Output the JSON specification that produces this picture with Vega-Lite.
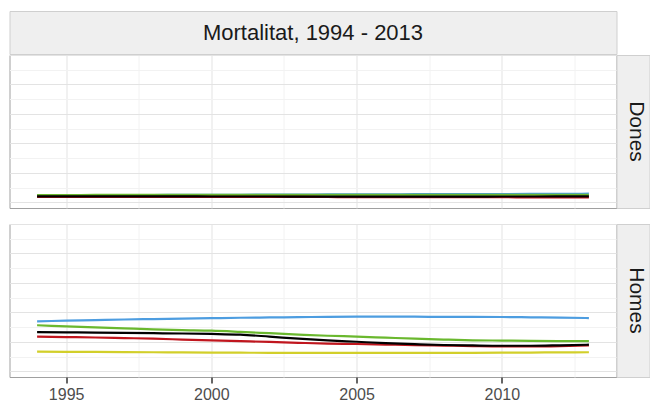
{
  "$schema": "https://vega.github.io/schema/vega-lite/v6.json",
  "padding": {"left": 8.5, "top": 10, "right": 0, "bottom": 0},
  "background": "white",
  "config": {"font": "Liberation Sans", "view": {"stroke": null}},
  "datasets": {
    "mort": [
      {"sexe":"Dones","serie":"Barcelona","any":1994,"valor":48},{"sexe":"Dones","serie":"Barcelona","any":1995,"valor":48.5},{"sexe":"Dones","serie":"Barcelona","any":1996,"valor":49},{"sexe":"Dones","serie":"Barcelona","any":1997,"valor":49.5},{"sexe":"Dones","serie":"Barcelona","any":1998,"valor":50},{"sexe":"Dones","serie":"Barcelona","any":1999,"valor":51},{"sexe":"Dones","serie":"Barcelona","any":2000,"valor":51.5},{"sexe":"Dones","serie":"Barcelona","any":2001,"valor":52},{"sexe":"Dones","serie":"Barcelona","any":2002,"valor":52.5},{"sexe":"Dones","serie":"Barcelona","any":2003,"valor":53},{"sexe":"Dones","serie":"Barcelona","any":2004,"valor":54},{"sexe":"Dones","serie":"Barcelona","any":2005,"valor":54.5},{"sexe":"Dones","serie":"Barcelona","any":2006,"valor":55},{"sexe":"Dones","serie":"Barcelona","any":2007,"valor":55.5},{"sexe":"Dones","serie":"Barcelona","any":2008,"valor":56},{"sexe":"Dones","serie":"Barcelona","any":2009,"valor":56.5},{"sexe":"Dones","serie":"Barcelona","any":2010,"valor":57},{"sexe":"Dones","serie":"Barcelona","any":2011,"valor":57.5},{"sexe":"Dones","serie":"Barcelona","any":2012,"valor":58},{"sexe":"Dones","serie":"Barcelona","any":2013,"valor":59},
      {"sexe":"Dones","serie":"Girona","any":1994,"valor":40},{"sexe":"Dones","serie":"Girona","any":1995,"valor":40},{"sexe":"Dones","serie":"Girona","any":1996,"valor":40},{"sexe":"Dones","serie":"Girona","any":1997,"valor":40},{"sexe":"Dones","serie":"Girona","any":1998,"valor":40},{"sexe":"Dones","serie":"Girona","any":1999,"valor":39.5},{"sexe":"Dones","serie":"Girona","any":2000,"valor":39.5},{"sexe":"Dones","serie":"Girona","any":2001,"valor":39.5},{"sexe":"Dones","serie":"Girona","any":2002,"valor":39},{"sexe":"Dones","serie":"Girona","any":2003,"valor":39},{"sexe":"Dones","serie":"Girona","any":2004,"valor":39},{"sexe":"Dones","serie":"Girona","any":2005,"valor":39},{"sexe":"Dones","serie":"Girona","any":2006,"valor":39},{"sexe":"Dones","serie":"Girona","any":2007,"valor":39},{"sexe":"Dones","serie":"Girona","any":2008,"valor":39},{"sexe":"Dones","serie":"Girona","any":2009,"valor":39},{"sexe":"Dones","serie":"Girona","any":2010,"valor":39},{"sexe":"Dones","serie":"Girona","any":2011,"valor":39.5},{"sexe":"Dones","serie":"Girona","any":2012,"valor":39.5},{"sexe":"Dones","serie":"Girona","any":2013,"valor":40},
      {"sexe":"Dones","serie":"Lleida","any":1994,"valor":50},{"sexe":"Dones","serie":"Lleida","any":1995,"valor":50},{"sexe":"Dones","serie":"Lleida","any":1996,"valor":50.5},{"sexe":"Dones","serie":"Lleida","any":1997,"valor":50.5},{"sexe":"Dones","serie":"Lleida","any":1998,"valor":51},{"sexe":"Dones","serie":"Lleida","any":1999,"valor":51},{"sexe":"Dones","serie":"Lleida","any":2000,"valor":51},{"sexe":"Dones","serie":"Lleida","any":2001,"valor":51.5},{"sexe":"Dones","serie":"Lleida","any":2002,"valor":51.5},{"sexe":"Dones","serie":"Lleida","any":2003,"valor":51.5},{"sexe":"Dones","serie":"Lleida","any":2004,"valor":52},{"sexe":"Dones","serie":"Lleida","any":2005,"valor":52},{"sexe":"Dones","serie":"Lleida","any":2006,"valor":52},{"sexe":"Dones","serie":"Lleida","any":2007,"valor":52},{"sexe":"Dones","serie":"Lleida","any":2008,"valor":52},{"sexe":"Dones","serie":"Lleida","any":2009,"valor":52},{"sexe":"Dones","serie":"Lleida","any":2010,"valor":52},{"sexe":"Dones","serie":"Lleida","any":2011,"valor":52},{"sexe":"Dones","serie":"Lleida","any":2012,"valor":52},{"sexe":"Dones","serie":"Lleida","any":2013,"valor":52},
      {"sexe":"Dones","serie":"Tarragona","any":1994,"valor":38},{"sexe":"Dones","serie":"Tarragona","any":1995,"valor":38},{"sexe":"Dones","serie":"Tarragona","any":1996,"valor":38},{"sexe":"Dones","serie":"Tarragona","any":1997,"valor":38},{"sexe":"Dones","serie":"Tarragona","any":1998,"valor":38},{"sexe":"Dones","serie":"Tarragona","any":1999,"valor":37.5},{"sexe":"Dones","serie":"Tarragona","any":2000,"valor":37.5},{"sexe":"Dones","serie":"Tarragona","any":2001,"valor":37},{"sexe":"Dones","serie":"Tarragona","any":2002,"valor":37},{"sexe":"Dones","serie":"Tarragona","any":2003,"valor":37},{"sexe":"Dones","serie":"Tarragona","any":2004,"valor":36.5},{"sexe":"Dones","serie":"Tarragona","any":2005,"valor":36},{"sexe":"Dones","serie":"Tarragona","any":2006,"valor":36},{"sexe":"Dones","serie":"Tarragona","any":2007,"valor":35.5},{"sexe":"Dones","serie":"Tarragona","any":2008,"valor":35.5},{"sexe":"Dones","serie":"Tarragona","any":2009,"valor":35},{"sexe":"Dones","serie":"Tarragona","any":2010,"valor":35},{"sexe":"Dones","serie":"Tarragona","any":2011,"valor":34.5},{"sexe":"Dones","serie":"Tarragona","any":2012,"valor":34.5},{"sexe":"Dones","serie":"Tarragona","any":2013,"valor":34},
      {"sexe":"Dones","serie":"Catalunya","any":1994,"valor":41},{"sexe":"Dones","serie":"Catalunya","any":1995,"valor":41},{"sexe":"Dones","serie":"Catalunya","any":1996,"valor":41},{"sexe":"Dones","serie":"Catalunya","any":1997,"valor":41},{"sexe":"Dones","serie":"Catalunya","any":1998,"valor":40.5},{"sexe":"Dones","serie":"Catalunya","any":1999,"valor":40.5},{"sexe":"Dones","serie":"Catalunya","any":2000,"valor":40},{"sexe":"Dones","serie":"Catalunya","any":2001,"valor":40},{"sexe":"Dones","serie":"Catalunya","any":2002,"valor":40},{"sexe":"Dones","serie":"Catalunya","any":2003,"valor":39.5},{"sexe":"Dones","serie":"Catalunya","any":2004,"valor":39},{"sexe":"Dones","serie":"Catalunya","any":2005,"valor":39},{"sexe":"Dones","serie":"Catalunya","any":2006,"valor":39},{"sexe":"Dones","serie":"Catalunya","any":2007,"valor":39},{"sexe":"Dones","serie":"Catalunya","any":2008,"valor":39.5},{"sexe":"Dones","serie":"Catalunya","any":2009,"valor":39.5},{"sexe":"Dones","serie":"Catalunya","any":2010,"valor":40},{"sexe":"Dones","serie":"Catalunya","any":2011,"valor":40},{"sexe":"Dones","serie":"Catalunya","any":2012,"valor":40.5},{"sexe":"Dones","serie":"Catalunya","any":2013,"valor":41},
      {"sexe":"Homes","serie":"Barcelona","any":1994,"valor":340},{"sexe":"Homes","serie":"Barcelona","any":1995,"valor":344},{"sexe":"Homes","serie":"Barcelona","any":1996,"valor":348},{"sexe":"Homes","serie":"Barcelona","any":1997,"valor":352},{"sexe":"Homes","serie":"Barcelona","any":1998,"valor":355},{"sexe":"Homes","serie":"Barcelona","any":1999,"valor":358},{"sexe":"Homes","serie":"Barcelona","any":2000,"valor":361},{"sexe":"Homes","serie":"Barcelona","any":2001,"valor":364},{"sexe":"Homes","serie":"Barcelona","any":2002,"valor":366},{"sexe":"Homes","serie":"Barcelona","any":2003,"valor":368},{"sexe":"Homes","serie":"Barcelona","any":2004,"valor":370},{"sexe":"Homes","serie":"Barcelona","any":2005,"valor":371},{"sexe":"Homes","serie":"Barcelona","any":2006,"valor":371},{"sexe":"Homes","serie":"Barcelona","any":2007,"valor":371},{"sexe":"Homes","serie":"Barcelona","any":2008,"valor":370},{"sexe":"Homes","serie":"Barcelona","any":2009,"valor":370},{"sexe":"Homes","serie":"Barcelona","any":2010,"valor":369},{"sexe":"Homes","serie":"Barcelona","any":2011,"valor":367},{"sexe":"Homes","serie":"Barcelona","any":2012,"valor":365},{"sexe":"Homes","serie":"Barcelona","any":2013,"valor":362},
      {"sexe":"Homes","serie":"Girona","any":1994,"valor":134},{"sexe":"Homes","serie":"Girona","any":1995,"valor":133},{"sexe":"Homes","serie":"Girona","any":1996,"valor":132},{"sexe":"Homes","serie":"Girona","any":1997,"valor":131},{"sexe":"Homes","serie":"Girona","any":1998,"valor":130},{"sexe":"Homes","serie":"Girona","any":1999,"valor":129},{"sexe":"Homes","serie":"Girona","any":2000,"valor":128},{"sexe":"Homes","serie":"Girona","any":2001,"valor":127},{"sexe":"Homes","serie":"Girona","any":2002,"valor":126},{"sexe":"Homes","serie":"Girona","any":2003,"valor":126},{"sexe":"Homes","serie":"Girona","any":2004,"valor":125},{"sexe":"Homes","serie":"Girona","any":2005,"valor":125},{"sexe":"Homes","serie":"Girona","any":2006,"valor":125},{"sexe":"Homes","serie":"Girona","any":2007,"valor":125},{"sexe":"Homes","serie":"Girona","any":2008,"valor":125},{"sexe":"Homes","serie":"Girona","any":2009,"valor":126},{"sexe":"Homes","serie":"Girona","any":2010,"valor":127},{"sexe":"Homes","serie":"Girona","any":2011,"valor":128},{"sexe":"Homes","serie":"Girona","any":2012,"valor":129},{"sexe":"Homes","serie":"Girona","any":2013,"valor":130},
      {"sexe":"Homes","serie":"Lleida","any":1994,"valor":313},{"sexe":"Homes","serie":"Lleida","any":1995,"valor":306},{"sexe":"Homes","serie":"Lleida","any":1996,"valor":299},{"sexe":"Homes","serie":"Lleida","any":1997,"valor":292},{"sexe":"Homes","serie":"Lleida","any":1998,"valor":285},{"sexe":"Homes","serie":"Lleida","any":1999,"valor":280},{"sexe":"Homes","serie":"Lleida","any":2000,"valor":276},{"sexe":"Homes","serie":"Lleida","any":2001,"valor":268},{"sexe":"Homes","serie":"Lleida","any":2002,"valor":259},{"sexe":"Homes","serie":"Lleida","any":2003,"valor":250},{"sexe":"Homes","serie":"Lleida","any":2004,"valor":242},{"sexe":"Homes","serie":"Lleida","any":2005,"valor":236},{"sexe":"Homes","serie":"Lleida","any":2006,"valor":229},{"sexe":"Homes","serie":"Lleida","any":2007,"valor":222},{"sexe":"Homes","serie":"Lleida","any":2008,"valor":216},{"sexe":"Homes","serie":"Lleida","any":2009,"valor":211},{"sexe":"Homes","serie":"Lleida","any":2010,"valor":209},{"sexe":"Homes","serie":"Lleida","any":2011,"valor":207},{"sexe":"Homes","serie":"Lleida","any":2012,"valor":206},{"sexe":"Homes","serie":"Lleida","any":2013,"valor":206},
      {"sexe":"Homes","serie":"Tarragona","any":1994,"valor":236},{"sexe":"Homes","serie":"Tarragona","any":1995,"valor":233},{"sexe":"Homes","serie":"Tarragona","any":1996,"valor":230},{"sexe":"Homes","serie":"Tarragona","any":1997,"valor":226},{"sexe":"Homes","serie":"Tarragona","any":1998,"valor":222},{"sexe":"Homes","serie":"Tarragona","any":1999,"valor":216},{"sexe":"Homes","serie":"Tarragona","any":2000,"valor":210},{"sexe":"Homes","serie":"Tarragona","any":2001,"valor":205},{"sexe":"Homes","serie":"Tarragona","any":2002,"valor":200},{"sexe":"Homes","serie":"Tarragona","any":2003,"valor":194},{"sexe":"Homes","serie":"Tarragona","any":2004,"valor":189},{"sexe":"Homes","serie":"Tarragona","any":2005,"valor":186},{"sexe":"Homes","serie":"Tarragona","any":2006,"valor":182},{"sexe":"Homes","serie":"Tarragona","any":2007,"valor":178},{"sexe":"Homes","serie":"Tarragona","any":2008,"valor":175},{"sexe":"Homes","serie":"Tarragona","any":2009,"valor":172},{"sexe":"Homes","serie":"Tarragona","any":2010,"valor":170},{"sexe":"Homes","serie":"Tarragona","any":2011,"valor":170},{"sexe":"Homes","serie":"Tarragona","any":2012,"valor":172},{"sexe":"Homes","serie":"Tarragona","any":2013,"valor":176},
      {"sexe":"Homes","serie":"Catalunya","any":1994,"valor":267},{"sexe":"Homes","serie":"Catalunya","any":1995,"valor":265},{"sexe":"Homes","serie":"Catalunya","any":1996,"valor":263},{"sexe":"Homes","serie":"Catalunya","any":1997,"valor":261},{"sexe":"Homes","serie":"Catalunya","any":1998,"valor":259},{"sexe":"Homes","serie":"Catalunya","any":1999,"valor":257},{"sexe":"Homes","serie":"Catalunya","any":2000,"valor":254},{"sexe":"Homes","serie":"Catalunya","any":2001,"valor":249},{"sexe":"Homes","serie":"Catalunya","any":2002,"valor":236},{"sexe":"Homes","serie":"Catalunya","any":2003,"valor":222},{"sexe":"Homes","serie":"Catalunya","any":2004,"valor":210},{"sexe":"Homes","serie":"Catalunya","any":2005,"valor":201},{"sexe":"Homes","serie":"Catalunya","any":2006,"valor":192},{"sexe":"Homes","serie":"Catalunya","any":2007,"valor":185},{"sexe":"Homes","serie":"Catalunya","any":2008,"valor":179},{"sexe":"Homes","serie":"Catalunya","any":2009,"valor":176},{"sexe":"Homes","serie":"Catalunya","any":2010,"valor":174},{"sexe":"Homes","serie":"Catalunya","any":2011,"valor":174},{"sexe":"Homes","serie":"Catalunya","any":2012,"valor":177},{"sexe":"Homes","serie":"Catalunya","any":2013,"valor":181}
    ]
  },
  "spacing": -1.5,
  "vconcat": [
    {
      "width": 607,
      "height": 43,
      "view": {"fill": "#efefef", "stroke": "#cfcfcf"},
      "data": {"values": [{"t": "Mortalitat, 1994 - 2013"}]},
      "mark": {"type": "text", "fontSize": 22, "color": "#1a1a1a", "font": "Liberation Sans"},
      "encoding": {"text": {"field": "t", "type": "nominal"}}
    },
    {
      "spacing": 14,
      "vconcat": [
        {
          "spacing": 0,
          "bounds": "flush",
          "hconcat": [
            {
              "width": 607,
              "height": 153,
              "view": {"fill": "white", "stroke": "#a0a0a0"},
              "data": {"name": "mort"},
              "transform": [{"filter": "datum.sexe === 'Dones'"}],
              "mark": {"type": "line", "strokeWidth": 2.2, "interpolate": "monotone"},
              "encoding": {
                "x": {"field": "any", "type": "quantitative", "scale": {"domain": [1993.05, 2013.95], "nice": false, "zero": false},
                  "axis": {"values": [1995, 1997.5, 2000, 2002.5, 2005, 2007.5, 2010, 2012.5], "labels": false, "ticks": false, "domain": false, "title": null, "grid": true, "minExtent": 0,
                    "gridColor": {"condition": {"test": "datum.value % 5 === 0", "value": "#e3e3e3"}, "value": "#f2f2f2"}}},
                "y": {"field": "valor", "type": "quantitative", "scale": {"domain": [-38, 1000], "nice": false, "zero": false},
                  "axis": {"values": [0, 100, 200, 300, 400, 500, 600, 700, 800, 900, 1000], "labels": false, "ticks": false, "domain": false, "title": null, "grid": true, "minExtent": 0,
                    "gridColor": {"condition": {"test": "datum.value % 200 === 0", "value": "#e3e3e3"}, "value": "#f2f2f2"}}},
                "color": {"field": "serie", "type": "nominal", "legend": null,
                  "scale": {"domain": ["Barcelona", "Girona", "Lleida", "Tarragona", "Catalunya"], "range": ["#4d9de0", "#d2cf2a", "#6ab82e", "#c0161e", "#000000"]}}
              }
            },
            {
              "width": 33,
              "height": 153,
              "view": {"fill": "#efefef", "stroke": "#cfcfcf"},
              "data": {"values": [{"t": "Dones"}]},
              "mark": {"type": "text", "fontSize": 21, "angle": 90, "dy": -2.5, "color": "#1a1a1a", "font": "Liberation Sans"},
              "encoding": {"text": {"field": "t", "type": "nominal"}}
            }
          ]
        },
        {
          "spacing": 0,
          "bounds": "flush",
          "hconcat": [
            {
              "width": 607,
              "height": 153,
              "view": {"fill": "white", "stroke": "#a0a0a0"},
              "data": {"name": "mort"},
              "transform": [{"filter": "datum.sexe === 'Homes'"}],
              "mark": {"type": "line", "strokeWidth": 2.2, "interpolate": "monotone"},
              "encoding": {
                "x": {"field": "any", "type": "quantitative", "scale": {"domain": [1993.05, 2013.95], "nice": false, "zero": false},
                  "axis": {"values": [1995, 1997.5, 2000, 2002.5, 2005, 2007.5, 2010, 2012.5], "format": "d", "labelExpr": "datum.value % 5 === 0 ? datum.label : ''",
                    "labelFontSize": 16, "labelColor": "#4d4d4d", "labelPadding": 3, "labelFont": "Liberation Sans",
                    "ticks": true, "tickSize": 6, "tickWidth": 1.5, "tickColor": {"condition": {"test": "datum.value % 5 === 0", "value": "#333333"}, "value": "transparent"},
                    "domain": false, "title": null, "grid": true,
                    "gridColor": {"condition": {"test": "datum.value % 5 === 0", "value": "#e3e3e3"}, "value": "#f2f2f2"}}},
                "y": {"field": "valor", "type": "quantitative", "scale": {"domain": [-38, 1000], "nice": false, "zero": false},
                  "axis": {"values": [0, 100, 200, 300, 400, 500, 600, 700, 800, 900, 1000], "labels": false, "ticks": false, "domain": false, "title": null, "grid": true, "minExtent": 0,
                    "gridColor": {"condition": {"test": "datum.value % 200 === 0", "value": "#e3e3e3"}, "value": "#f2f2f2"}}},
                "color": {"field": "serie", "type": "nominal", "legend": null,
                  "scale": {"domain": ["Barcelona", "Girona", "Lleida", "Tarragona", "Catalunya"], "range": ["#4d9de0", "#d2cf2a", "#6ab82e", "#c0161e", "#000000"]}}
              }
            },
            {
              "width": 33,
              "height": 153,
              "view": {"fill": "#efefef", "stroke": "#cfcfcf"},
              "data": {"values": [{"t": "Homes"}]},
              "mark": {"type": "text", "fontSize": 21, "angle": 90, "dy": -2.5, "color": "#1a1a1a", "font": "Liberation Sans"},
              "encoding": {"text": {"field": "t", "type": "nominal"}}
            }
          ]
        }
      ]
    }
  ]
}
